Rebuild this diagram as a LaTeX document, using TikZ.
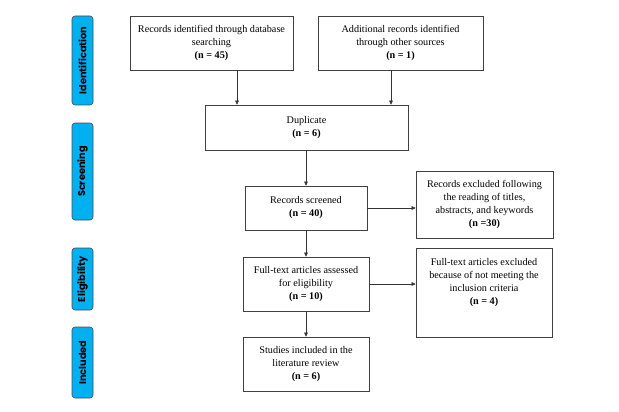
\documentclass[tikz,border=0pt]{standalone}
\usepackage{fontspec}
\setmainfont{Liberation Serif}
\newfontfamily\sidefont{Poppins}
\usetikzlibrary{arrows.meta}
\begin{document}
\begin{tikzpicture}[x=1pt,y=-1pt,
  txt/.style={align=center,font=\fontsize{10.2}{13}\selectfont,inner sep=0pt},
  box/.style={txt,draw=black!75,line width=0.6pt},
  side/.style={draw=black!70,line width=0.6pt,fill={rgb,255:red,0;green,176;blue,240},rounded corners=3pt,minimum width=21pt},
  sidetxt/.style={rotate=90,font=\sidefont\bfseries\fontsize{9.8}{11}\selectfont},
  arr/.style={-{Triangle[length=4pt,width=3.6pt]},line width=0.5pt,black!80}]
\useasboundingbox (0,0) rectangle (619,412);
% side bars
\node[side,minimum height=89pt] (sid) at (82.5,60.5) {};
\node[sidetxt] at (sid.center) {Identification};
\node[side,minimum height=97pt] (sscr) at (82.5,171.5) {};
\node[sidetxt] at (sscr.center) {Screening};
\node[side,minimum height=62pt] (selig) at (82.5,279) {};
\node[sidetxt] at (selig.center) {Eligibility};
\node[side,minimum height=71pt] (sinc) at (82.5,362.5) {};
\node[sidetxt] at (sinc.center) {Included};
% boxes
\node[box,minimum width=163pt,minimum height=54pt] (db) at (211.5,43) {Records identified through database\\searching\\\textbf{(n = 45)}};
\node[box,minimum width=165pt,minimum height=54pt] (other) at (400.5,43) {Additional records identified\\through other sources\\\textbf{(n = 1)}};
\node[box,minimum width=203pt,minimum height=45pt] (dup) at (306.5,127.5) {Duplicate\\\textbf{(n = 6)}};
\node[box,minimum width=122pt,minimum height=44pt] (scr) at (306,208) {Records screened\\\textbf{(n = 40)}};
\node[box,minimum width=137pt,minimum height=67pt] (ex1) at (484.5,204.5) {Records excluded following\\the reading of titles,\\abstracts, and keywords\\\textbf{(n =30)}};
\node[box,minimum width=126pt,minimum height=54pt] (ft) at (306,284) {Full-text articles assessed\\for eligibility\\\textbf{(n = 10)}};
\node[box,minimum width=136pt,minimum height=89pt,anchor=north] (ex2) at (484,248) {};
\node[txt,anchor=north] (ex2t) at ([yshift=-10pt]ex2.north) {Full-text articles excluded\\because of not meeting the\\inclusion criteria\\\textbf{(n = 4)}};
\node[box,minimum width=126pt,minimum height=54pt] (inc) at (306,364) {Studies included in the\\literature review\\\textbf{(n = 6)}};
% arrows
\draw[arr] (db.south -| 237,0) -- (dup.north -| 237,0);
\draw[arr] (other.south -| 391,0) -- (dup.north -| 391,0);
\draw[arr] (dup.south -| scr.north) -- (scr.north);
\draw[arr] (scr.east) -- (scr.east -| ex1.west);
\draw[arr] (scr.south) -- (ft.north);
\draw[arr] (ft.east) -- (ft.east -| ex2.west);
\draw[arr] (ft.south) -- (inc.north);
\end{tikzpicture}
\end{document}
